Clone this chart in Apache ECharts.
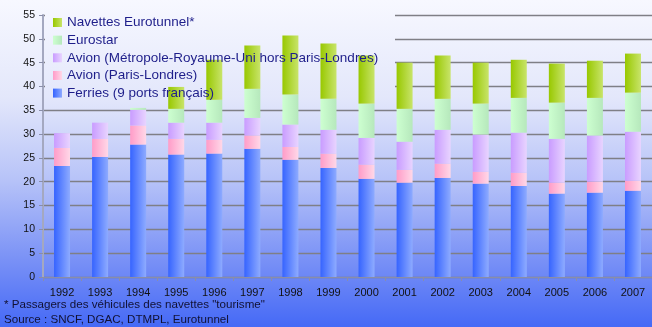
<!DOCTYPE html>
<html>
<head>
<meta charset="utf-8">
<script src="https://cdn.jsdelivr.net/npm/echarts@6/dist/echarts.min.js"></script>
<style>
    html, body { margin: 0; padding: 0; }
    #chart { width: 652px; height: 327px; }
</style>
</head>
<body>
<div id="chart"></div>
<script>
    const years = ['1992', '1993', '1994', '1995', '1996', '1997', '1998', '1999',
        '2000', '2001', '2002', '2003', '2004', '2005', '2006', '2007'];

    // millions de passagers
    const ferries = [23.3, 25.2, 27.8, 25.7, 25.9, 26.9, 24.6, 22.9, 20.6, 19.8, 20.8, 19.6, 19.1, 17.5, 17.7, 18.1];
    const avionParisLondres = [3.8, 3.8, 4.0, 3.3, 2.9, 2.8, 2.7, 3.0, 3.0, 2.7, 3.0, 2.5, 2.8, 2.3, 2.3, 2.1];
    const avionMetropole = [3.1, 3.4, 3.3, 3.4, 3.6, 3.7, 4.7, 5.0, 5.6, 5.9, 7.1, 7.8, 8.4, 9.2, 9.7, 10.3];
    const eurostar = [0, 0, 0.4, 2.9, 4.8, 6.1, 6.3, 6.5, 7.2, 6.9, 6.5, 6.5, 7.3, 7.6, 7.9, 8.2];
    const navettes = [0, 0, 0, 4.6, 8.4, 9.1, 12.4, 11.6, 10.1, 9.7, 9.1, 8.6, 8.0, 8.2, 7.8, 8.2];

    const yTicks = { min: 0, max: 55, interval: 5 };

    const names = {
        ferries: 'Ferries (9 ports français)',
        parisLondres: 'Avion (Paris-Londres)',
        metropole: 'Avion (Métropole-Royaume-Uni hors Paris-Londres)',
        eurostar: 'Eurostar',
        navettes: 'Navettes Eurotunnel*',
    };

    const footnotes = [
        '* Passagers des véhicules des navettes "tourisme"',
        'Source : SNCF, DGAC, DTMPL, Eurotunnel',
    ];

    const bgStops = [
        { offset: 0, color: '#f7f8ff' },
        { offset: 0.3, color: '#e3e7fb' },
        { offset: 0.55, color: '#b7c3f8' },
        { offset: 0.8, color: '#7890f6' },
        { offset: 1, color: '#4569f6' },
    ];

    function hGrad(left, right) {
        return new echarts.graphic.LinearGradient(0, 0, 1, 0, [
            { offset: 0, color: left },
            { offset: 1, color: right },
        ]);
    }

    function barSeries(name, data, left, right) {
        return {
            name,
            type: 'bar',
            stack: 'total',
            data,
            barWidth: 16,
            itemStyle: { color: hGrad(left, right) },
            emphasis: { disabled: true },
        };
    }

    const chart = echarts.init(document.getElementById('chart'));
    chart.setOption({
        animation: false,
        backgroundColor: {
            type: 'linear', x: 0, y: 0, x2: 0, y2: 1,
            colorStops: bgStops,
        },
        textStyle: { fontFamily: '"Liberation Sans", Arial, sans-serif' },
        grid: { left: 43, right: -5, top: 15, bottom: 50 },
        graphic: [
            {
                // hides the gridlines behind the legend, bars stay on top
                type: 'rect',
                z: 1,
                silent: true,
                shape: { x: 45, y: 6, width: 350, height: 96 },
                style: {
                    fill: {
                        type: 'linear', x: 0, y: 0, x2: 0, y2: 327, global: true,
                        colorStops: bgStops,
                    },
                },
            },
            {
                type: 'text',
                left: 4,
                top: 297,
                style: {
                    text: footnotes.join('\n'),
                    font: '11.6px "Liberation Sans", Arial, sans-serif',
                    fill: '#111133',
                    lineHeight: 15,
                },
            },
        ],
        legend: {
            orient: 'vertical',
            left: 53,
            top: 15,
            padding: 0,
            itemWidth: 9,
            itemHeight: 9,
            itemGap: 2.65,
            icon: 'rect',
            data: [names.navettes, names.eurostar, names.metropole, names.parisLondres, names.ferries],
            textStyle: {
                fontSize: 13.5, color: '#1e1e8a', lineHeight: 15,
                fontFamily: '"Liberation Sans", Arial, sans-serif',
            },
            selectedMode: false,
        },
        xAxis: {
            type: 'category',
            data: years,
            axisLine: { lineStyle: { color: '#8a8ea8', width: 1 } },
            axisTick: { show: true, length: 4, lineStyle: { color: '#8a8ea8' } },
            axisLabel: { fontSize: 11, color: '#111111', margin: 10 },
        },
        yAxis: {
            type: 'value',
            min: yTicks.min,
            max: yTicks.max,
            interval: yTicks.interval,
            axisLine: { show: true, lineStyle: { color: '#a4a8c0', width: 2 } },
            axisTick: { show: true, length: 4, lineStyle: { color: '#8a8ea8' } },
            axisLabel: { fontSize: 10.5, color: '#111111', margin: 8 },
            splitLine: { lineStyle: { color: '#7f7f86', width: 1.3 } },
        },
        series: [
            barSeries(names.ferries, ferries, '#3664ff', '#8eabff'),
            barSeries(names.parisLondres, avionParisLondres, '#ff9cc8', '#ffd8e8'),
            barSeries(names.metropole, avionMetropole, '#c99cff', '#e8d4ff'),
            barSeries(names.eurostar, eurostar, '#cdffd0', '#b6e8bc'),
            barSeries(names.navettes, navettes, '#98c800', '#c8e46a'),
        ],
    });
</script>
</body>
</html>
